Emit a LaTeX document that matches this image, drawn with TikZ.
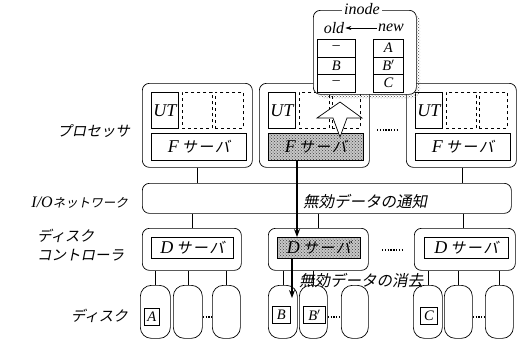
\documentclass[tikz,border=0pt]{standalone}
\usepackage{fontspec}
\setmainfont{Liberation Serif}
\newfontfamily\jp[FakeSlant=0.2]{Noto Sans CJK JP}
\usetikzlibrary{patterns,arrows.meta}
\newcommand{\fsv}{{\itshape\fontsize{18}{18}\selectfont F}\kern3pt{\jp\fontsize{15}{15}\selectfont サ\kern1.5pt ー\kern1.5pt バ}}
\newcommand{\dsv}{{\itshape\fontsize{18}{18}\selectfont D}\kern3pt{\jp\fontsize{15}{15}\selectfont サ\kern1.5pt ー\kern1.5pt バ}}
\begin{document}
\begin{tikzpicture}[x=1pt,y=-1pt,
  lw/.style={line width=0.7pt},
  box/.style={draw, lw, rounded corners=7pt, fill=white, inner sep=0pt, anchor=north west},
  inbox/.style={draw, lw, fill=white, inner sep=0pt, anchor=north west},
  sbox/.style={draw, lw, inner sep=0pt, anchor=north west, preaction={fill=black!22}, pattern=crosshatch dots, pattern color=black!75},
  dbox/.style={draw, dashed, line width=0.6pt, inner sep=0pt, anchor=north west},
  disk/.style={draw, lw, rounded corners=11pt, fill=white, inner sep=0pt, anchor=north west, minimum height=53pt},
  lat/.style={font=\itshape\fontsize{18}{18}\selectfont},
  lats/.style={font=\itshape\fontsize{16}{16}\selectfont},
  latc/.style={font=\itshape\fontsize{14.5}{14.5}\selectfont},
  jl/.style={font=\jp\fontsize{14.5}{16}\selectfont},
  arr/.style={line width=1.6pt, -{Stealth[length=8pt,width=6pt]}},
  dots/.style={line width=2.2pt, dash pattern=on 1.3pt off 1.5pt},
]
\useasboundingbox (0,0) rectangle (519,341);

% processors
\foreach \i/\x/\st in {1/142/inbox, 2/259/sbox, 3/406/inbox}{
  \node[box, minimum width=110pt, minimum height=84pt] (p\i) at (\x,83) {};
  \node[inbox, lat, minimum width=27pt, minimum height=36pt] (ut\i) at (\x+9,92) {UT};
  \node[dbox, minimum width=30pt, minimum height=36pt] (da\i) at (\x+40,92) {};
  \node[dbox, minimum width=28pt, minimum height=36pt] (db\i) at (\x+73,92) {};
  \node[\st, minimum width=95pt, minimum height=27pt] (f\i) at (\x+9,133) {\fsv};
}
\draw[dots] (377,130) -- (398,130);

% hollow arrow
\draw[lw, fill=white] (340,102) -- (362,118) -- (347,118) -- (340,137) -- (333,118) -- (317,118) -- cycle;

% inode
\fill[pattern=crosshatch dots, pattern color=black!70, rounded corners=7pt] (317,14) rectangle (420,98);
\node[box, minimum width=103pt, minimum height=84pt] (ino) at (313,10) {};
\node[fill=white, inner sep=2pt, lats] (inot) at (362,9) {inode};
\node[lats, inner sep=1pt] (old) at (334,28) {old};
\node[lats, inner sep=1pt] (new) at (391,28) {new};
\draw[line width=0.6pt, -{Stealth[length=6pt,width=4pt]}] (new.west) -- (old.east);
\foreach \j/\y/\a/\b in {1/39/--/A, 2/56.5/B/B$'$, 3/74/--/C}{
  \node[inbox, latc, minimum width=38pt, minimum height=17.5pt] (l\j) at (317,\y) {\a};
  \node[inbox, latc, minimum width=30pt, minimum height=17.5pt] (r\j) at (373,\y) {\b};
}

% network
\node[box, minimum width=369pt, minimum height=30pt] (net) at (142,183) {};
\node[font=\jp\fontsize{15.5}{16}\selectfont, inner sep=0pt] (ntx) at (365,202) {無効データの通知};

% controllers
\node[box, minimum width=99pt, minimum height=42pt] (c1) at (142,228) {};
\node[box, minimum width=100pt, minimum height=42pt] (c2) at (268,228) {};
\node[box, minimum width=101pt, minimum height=42pt] (c3) at (414,228) {};
\node[inbox, minimum width=82pt, minimum height=21pt] (d1) at (151,237) {\dsv};
\node[sbox, minimum width=83pt, minimum height=21pt] (d2) at (277,237) {\dsv};
\node[inbox, minimum width=84pt, minimum height=21pt] (d3) at (424,237) {\dsv};
\draw[dots] (382,250) -- (403,250);

% processor - network - controller links
\draw[lw] ([xshift=55pt]p1.south west) -- ([xshift=55pt]p1.south west |- net.north);
\draw[lw] ([xshift=56pt]p3.south west) -- ([xshift=56pt]p3.south west |- net.north);
\draw[lw] ([xshift=50pt]c1.north west |- net.south) -- ([xshift=50pt]c1.north west);
\draw[lw] ([xshift=50pt]c2.north west |- net.south) -- ([xshift=50pt]c2.north west);
\draw[lw] ([xshift=49pt]c3.north west |- net.south) -- ([xshift=49pt]c3.north west);
\draw[arr] ([xshift=29pt]f2.south west) -- ([xshift=20pt]d2.north west);

% disks
\node[disk, minimum width=30pt] (k1a) at (140,285) {};
\node[disk, minimum width=29pt] (k1b) at (173,285) {};
\node[disk, minimum width=28pt] (k1c) at (212,285) {};
\node[disk, minimum width=29pt] (k2a) at (268,285) {};
\node[disk, minimum width=28pt] (k2b) at (299,285) {};
\node[disk, minimum width=27pt] (k2c) at (341,285) {};
\node[disk, minimum width=29pt] (k3a) at (413,285) {};
\node[disk, minimum width=28pt] (k3b) at (444,285) {};
\node[disk, minimum width=28pt] (k3c) at (485,285) {};
\foreach \k/\c in {k1a/c1, k1b/c1, k1c/c1, k2a/c2, k2b/c2, k3a/c3, k3b/c3, k3c/c3}{
  \draw[lw] (\k.north) -- (\k.north |- \c.south);
}
\draw[dots] ([yshift=-5pt]k1b.east) -- ([yshift=-5pt]k1c.west);
\draw[dots] ([yshift=-5pt]k2b.east) -- ([yshift=-5pt]k2c.west);
\draw[dots] ([yshift=-5pt]k3b.east) -- ([yshift=-5pt]k3c.west);
\node[inbox, latc, minimum width=15pt, minimum height=17pt] (ba) at (144,308) {A};
\node[inbox, latc, minimum width=18pt, minimum height=17pt] (bb) at (272,306) {B};
\node[inbox, latc, minimum width=22pt, minimum height=17pt] (bb2) at (303,306) {B$'$};
\node[inbox, latc, minimum width=17pt, minimum height=17pt] (bc) at (420,307) {C};

\coordinate (t2) at (292,298);
\draw[arr] ([xshift=15pt]d2.south west) -- (t2);
\node[font=\jp\fontsize{15.5}{16}\selectfont, inner sep=0pt] (etx) at (361,281) {無効データの消去};

% left labels
\node[jl, anchor=east, inner sep=0pt] (lp) at (130,131) {プロセッサ};
\node[anchor=east, inner sep=0pt] (ln) at (128,203) {{\itshape\fontsize{16}{16}\selectfont I/O}{\jp\fontsize{12.5}{13}\selectfont ネットワーク}};
\node[jl, anchor=north west, align=left, inner sep=0pt, font=\jp\fontsize{14.5}{19}\selectfont] (lc) at (37,229) {ディスク\\コントローラ};
\node[jl, anchor=east, inner sep=0pt] (ld) at (128,316) {ディスク};
\end{tikzpicture}
\end{document}
